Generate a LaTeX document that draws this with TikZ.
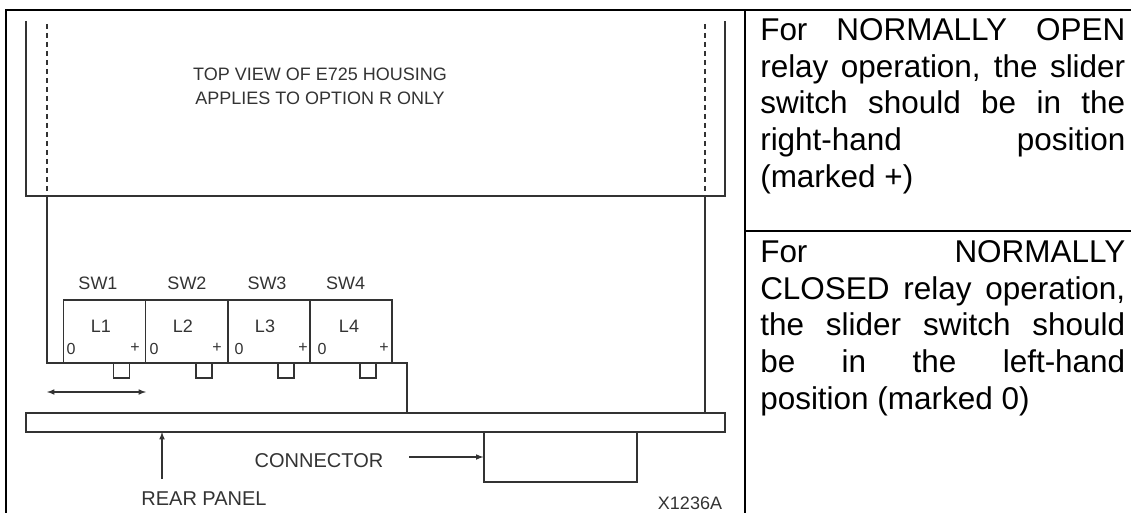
\documentclass[tikz,border=0pt]{standalone}
\usepackage{fontspec}
\setmainfont{Liberation Sans}
\usepackage{tikz}
\usetikzlibrary{positioning}

\begin{document}
\begin{tikzpicture}[x=.75pt,y=-.75pt]
\tikzstyle{frameline}=[line width=1.6pt,black]
\tikzstyle{wire}=[line width=.9pt,black!80]
\tikzstyle{pointer}=[wire,-latex]
\tikzstyle{switchbox}=[draw,black!80,line width=.9pt,minimum width=61.5pt,minimum height=47.25pt,inner sep=0pt]
\tikzstyle{tabbox}=[draw,black!80,line width=.9pt,minimum width=12pt,minimum height=11.25pt,inner sep=0pt]
\tikzstyle{drawlabel}=[inner sep=0pt,text=black!80,font=\fontsize{13.5}{18}\selectfont,align=center]
\tikzstyle{biglabel}=[inner sep=0pt,text=black!80,font=\fontsize{15}{18}\selectfont]
\tikzstyle{smalllabel}=[inner sep=0pt,text=black!80,font=\fontsize{12}{14}\selectfont]
\tikzstyle{notetext}=[inner sep=0pt,anchor=north west,text width=273.75pt,align=justify,font=\fontsize{23.6}{27.6}\selectfont]
    \useasboundingbox (0,0) rectangle (1131,513);
    % outer frame
    \coordinate (frameTL) at (6,10);
    \coordinate (frameTR) at (1131,10);
    \coordinate (frameBL) at (6,513);
    \coordinate (frameM) at (745,10);
    \coordinate (frameMB) at (745,513);
    \coordinate (frameS) at (745,231);
    \coordinate (frameSR) at (1131,231);
    \draw[frameline] (frameBL) to (frameTL) to (frameTR);
    \draw[frameline] (frameM) to (frameMB);
    \draw[frameline] (frameS) to (frameSR);
    % housing
    \coordinate (houseTL) at (26,21);
    \coordinate (houseBL) at (26,196);
    \coordinate (houseBR) at (725,196);
    \coordinate (houseTR) at (725,21);
    \draw[wire] (houseTL) -- (houseBL) -- (houseBR) -- (houseTR);
    \coordinate (dashLT) at (47,24);
    \coordinate (dashLB) at (47,196);
    \coordinate (dashRT) at (705,24);
    \coordinate (dashRB) at (705,196);
    \draw[wire,dash pattern=on 3.75pt off 3pt] (dashLT) to (dashLB);
    \draw[wire,dash pattern=on 3.75pt off 3pt] (dashRT) to (dashRB);
    % switches
    \node[switchbox] (sw1) at (104.25,331.5) {};
    \node[switchbox] (sw2) at (186.25,331.5) {};
    \node[switchbox] (sw3) at (269,331.5) {};
    \node[switchbox] (sw4) at (351,331.5) {};
    \node[tabbox] (tab1) at (121.25,370.5) {};
    \node[tabbox] (tab2) at (204,370.5) {};
    \node[tabbox] (tab3) at (286,370.5) {};
    \node[tabbox] (tab4) at (368,370.5) {};
    % panel and connector
    \node[draw,black!80,line width=.9pt,minimum width=524.25pt,minimum height=14.25pt,inner sep=0pt] (panel) at (375.5,422.5) {};
    \node[draw,black!80,line width=.9pt,minimum width=114.75pt,minimum height=37.5pt,inner sep=0pt] (conn) at (560.5,457) {};
    \coordinate (baseL) at (47,363);
    \coordinate (baseR) at (407,363);
    \coordinate (baseD) at (407,413);
    \coordinate (sideR) at (705,413);
    \draw[wire] (dashLB) -- (baseL) -- (baseR) -- (baseD);
    \draw[wire] (dashRB) -- (sideR);
    % arrows
    \coordinate (slideL) at (47,392);
    \coordinate (slideR) at (146,392);
    \draw[wire,latex-latex] (slideL) to (slideR);
    \coordinate (rearEnd) at (162,479);
    \coordinate (rearTip) at (162,432);
    \draw[pointer] (rearEnd) to (rearTip);
    \coordinate (connEnd) at (409,457);
    \draw[pointer] (connEnd) to (conn.west);
    % labels
    \node[drawlabel] (title) at (320,86) {TOP VIEW OF E725 HOUSING\\APPLIES TO OPTION R ONLY};
    \node[drawlabel] (sw1lab) at (98,283) {SW1};
    \node[drawlabel] (sw2lab) at (187,283) {SW2};
    \node[drawlabel] (sw3lab) at (267,283) {SW3};
    \node[drawlabel] (sw4lab) at (345.5,283) {SW4};
    \node[drawlabel] (l1) at (101,326) {L1};
    \node[drawlabel] (l2) at (183,326) {L2};
    \node[drawlabel] (l3) at (265,326) {L3};
    \node[drawlabel] (l4) at (349,326) {L4};
    \node[smalllabel] (z1) at (71,349) {0};
    \node[smalllabel] (z2) at (154,349) {0};
    \node[smalllabel] (z3) at (239,349) {0};
    \node[smalllabel] (z4) at (322,349) {0};
    \node[smalllabel] (p1) at (135,348) {+};
    \node[smalllabel] (p2) at (217,348) {+};
    \node[smalllabel] (p3) at (303,348) {+};
    \node[smalllabel] (p4) at (384,348) {+};
    \node[biglabel] (connlab) at (319,461) {CONNECTOR};
    \node[biglabel] (rearlab) at (204,499) {REAR PANEL};
    \node[drawlabel] (code) at (690,503) {X1236A};
    % notes
    \node[notetext] (noteopen) at (760,18) {For NORMALLY OPEN\linebreak relay operation, the slider\linebreak switch should be in the\linebreak right-hand position\linebreak (marked +)};
    \node[notetext] (noteclosed) at (760,240) {For NORMALLY\linebreak CLOSED relay operation,\linebreak the slider switch should\linebreak be in the left-hand\linebreak position (marked 0)};
\end{tikzpicture}
\end{document}
